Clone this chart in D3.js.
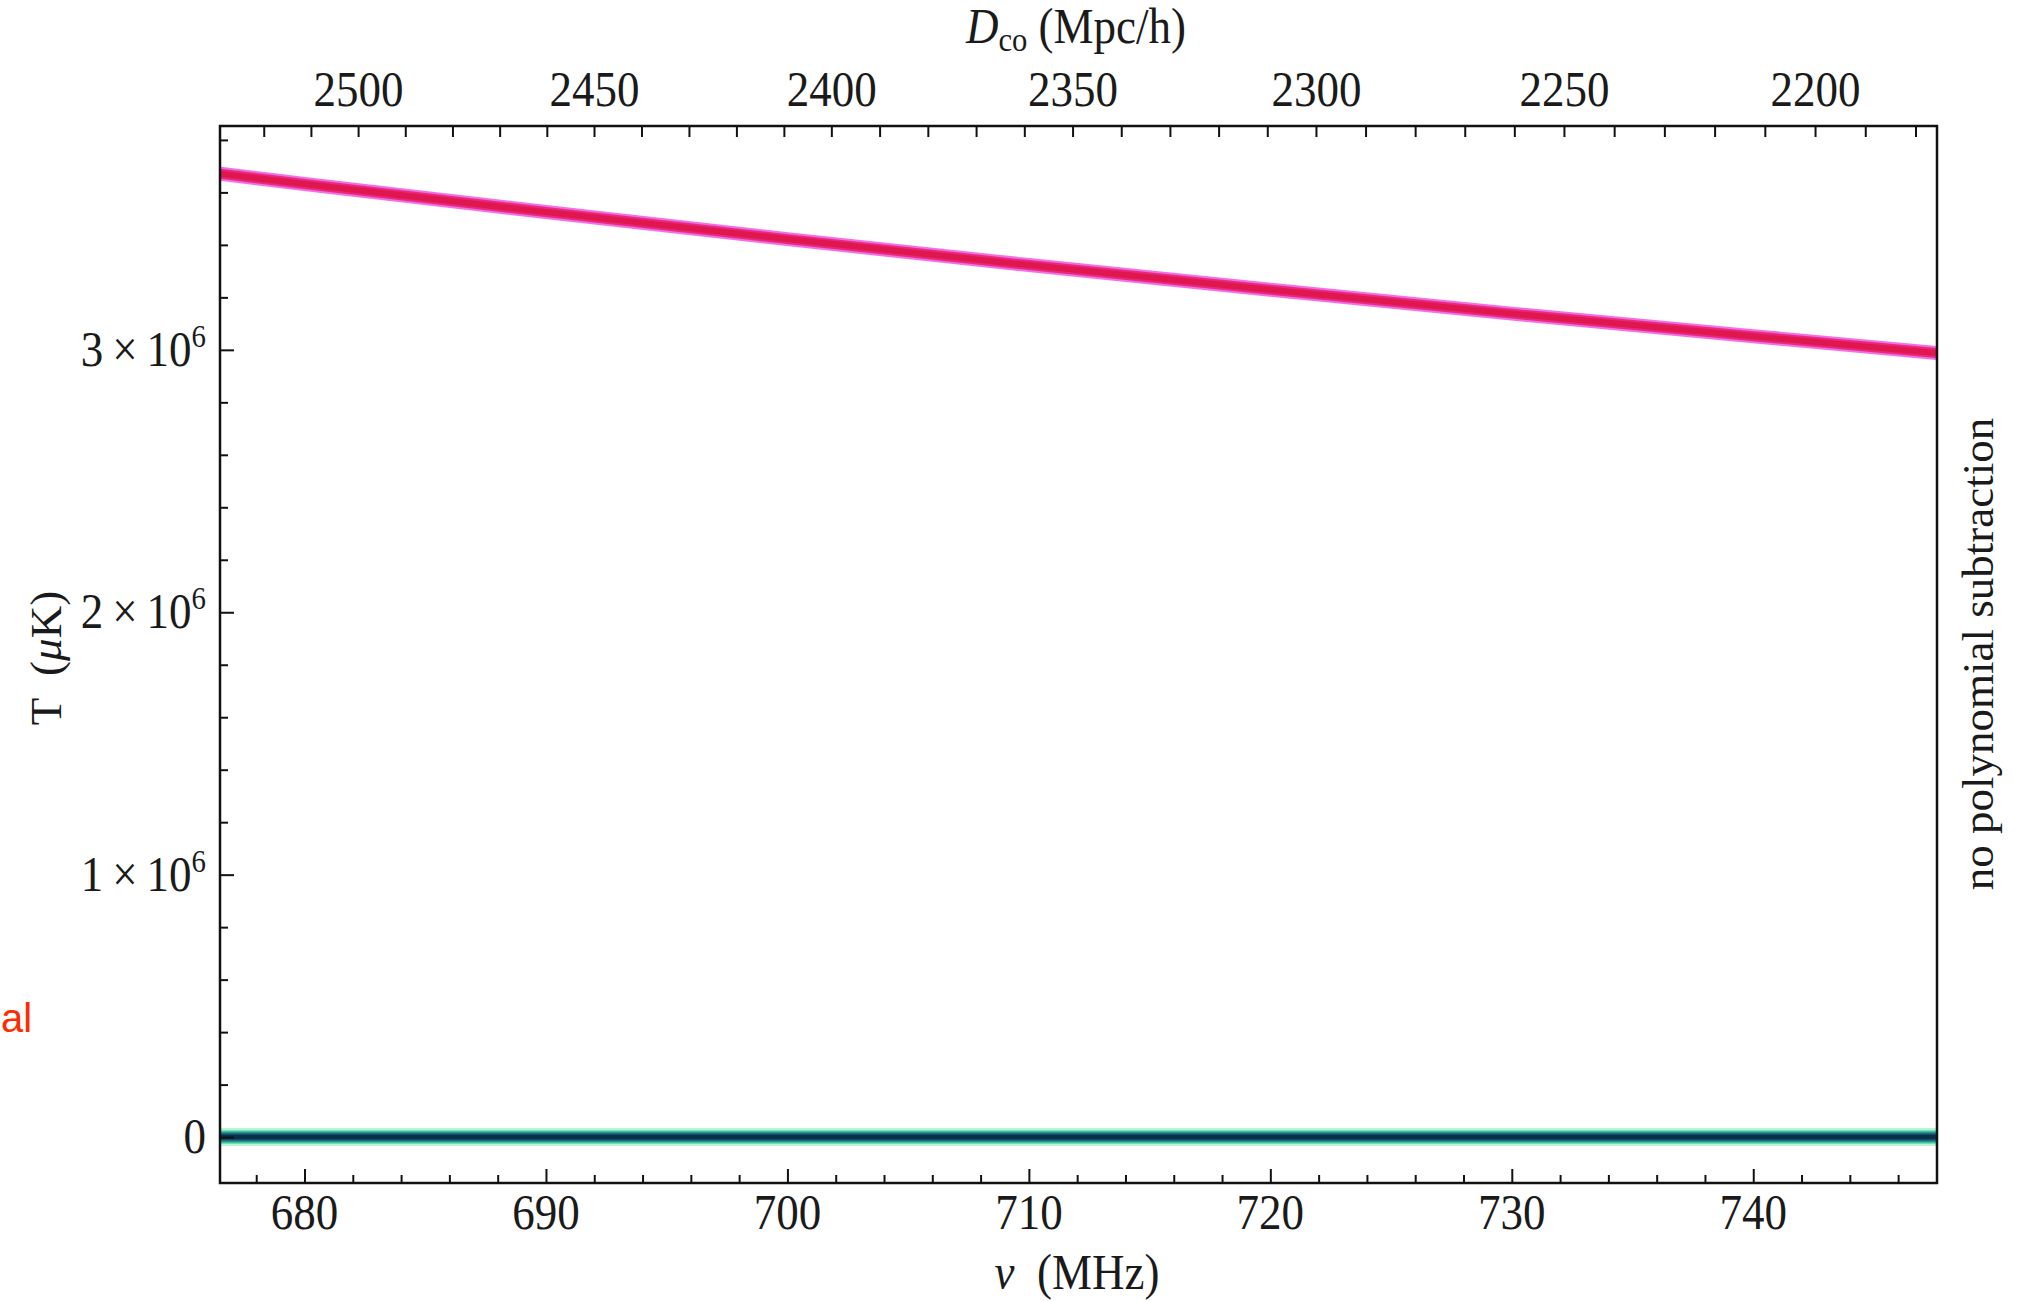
<!DOCTYPE html>
<html>
<head>
<meta charset="utf-8">
<script src="https://cdn.jsdelivr.net/npm/d3@7"></script>
<style>
  html, body { margin: 0; padding: 0; background: #ffffff; }
  svg { display: block; }
  text { font-family: "Liberation Serif", "Times New Roman", serif; fill: #1a1a1a; }
</style>
</head>
<body>
<svg id="chart" width="2017" height="1301"></svg>
<script>
(function () {
// ---------------- data ----------------
const nuTicks = [680, 690, 700, 710, 720, 730, 740];             // MHz, labelled bottom ticks
const nuMinorTicks = d3.range(678, 747, 2);                       // minor bottom ticks
const tTicks = [0, 1e6, 2e6, 3e6];                               // labelled left ticks
const tTickMantissa = ["0", "1", "2", "3"];
const tMinorTicks = d3.range(0.2e6, 3.85e6, 0.2e6);
const dcoTicks = [2500, 2450, 2400, 2350, 2300, 2250, 2200];      // top axis labels (Mpc/h)
const dcoTickNu = [682.24, 692.01, 701.84, 711.83, 721.91, 732.18, 742.58]; // where they sit on the nu axis
const dcoMinorTicks = d3.range(2180, 2530, 10);

const nuPoints = [676.5, 680, 690, 700, 710, 720, 730, 740, 747.6];
const foregroundT = [3.671e6, 3.632e6, 3.525e6, 3.422e6, 3.323e6, 3.229e6, 3.138e6, 3.052e6, 2.988e6];
const signalT = [0, 0, 0, 0, 0, 0, 0, 0, 0];

// ---------------- layout ----------------
const L = 220, R = 1937, T = 126, B = 1183;
const svg = d3.select("#chart");

const x = d3.scaleLinear().domain([676.5, 747.61]).range([L, R]);
const y = d3.scaleLinear().domain([-0.175e6, 3.853e6]).range([B, T]);
const dcoToNu = d3.scaleLinear().domain(dcoTicks).range(dcoTickNu);
const xTop = d => x(dcoToNu(d));

svg.append("rect").attr("width", 2017).attr("height", 1301).attr("fill", "#ffffff");

// clip for curves
svg.append("defs").append("clipPath").attr("id", "plotclip")
  .append("rect").attr("x", L).attr("y", T).attr("width", R - L).attr("height", B - T);

const line = d3.line().x((d, i) => x(nuPoints[i])).y(d => y(d));
const curves = svg.append("g").attr("clip-path", "url(#plotclip)");

// zero-level signal curves (teal/green fringe, navy core)
[["#b8f5d2", 18], ["#3cbf9f", 13], ["#1a6a80", 9], ["#0a2f4c", 5]].forEach(([c, w]) => {
  curves.append("path").datum(signalT).attr("d", line)
    .attr("fill", "none").attr("stroke", c).attr("stroke-width", w);
});

// foreground curve (magenta fringe, crimson core)
[["#f070e8", 14], ["#e8287a", 10], ["#e0164f", 6]].forEach(([c, w]) => {
  curves.append("path").datum(foregroundT).attr("d", line)
    .attr("fill", "none").attr("stroke", c).attr("stroke-width", w);
});

// ---------------- axes (ticks drawn inward) ----------------
const axStyle = g => {
  g.select(".domain").remove();
  g.selectAll(".tick line").attr("stroke", "#111").attr("stroke-width", 2);
  g.selectAll(".tick text").remove();
};

// bottom
svg.append("g").attr("transform", `translate(0,${B})`)
  .call(d3.axisBottom(x).tickValues(nuMinorTicks.filter(v => v % 10 !== 0)).tickSize(-8)).call(axStyle);
svg.append("g").attr("transform", `translate(0,${B})`)
  .call(d3.axisBottom(x).tickValues(nuTicks).tickSize(-14)).call(axStyle);

// left
svg.append("g").attr("transform", `translate(${L},0)`)
  .call(d3.axisLeft(y).tickValues(tMinorTicks.filter(v => Math.abs(v % 1e6) > 1)).tickSize(-8)).call(axStyle);
svg.append("g").attr("transform", `translate(${L},0)`)
  .call(d3.axisLeft(y).tickValues(tTicks).tickSize(-14)).call(axStyle);

// top (D_co axis, non-linear in nu)
svg.append("g").selectAll("line").data(dcoMinorTicks.filter(d => xTop(d) > L + 2 && xTop(d) < R - 2))
  .join("line")
  .attr("x1", d => xTop(d)).attr("x2", d => xTop(d))
  .attr("y1", T).attr("y2", T + 11)
  .attr("stroke", "#111").attr("stroke-width", 2);

// frame
svg.append("rect").attr("x", L).attr("y", T).attr("width", R - L).attr("height", B - T)
  .attr("fill", "none").attr("stroke", "#111").attr("stroke-width", 2.5);

// ---------------- tick labels ----------------
const SX = 0.9;
const FS = 50;

svg.append("g").selectAll("g").data(nuTicks).join("g")
  .attr("transform", d => `translate(${x(d)},1229) scale(${SX},1)`)
  .append("text").attr("text-anchor", "middle").attr("font-size", FS).text(d => d);

svg.append("g").selectAll("g").data(dcoTicks).join("g")
  .attr("transform", d => `translate(${xTop(d)},106) scale(${SX},1)`)
  .append("text").attr("text-anchor", "middle").attr("font-size", FS).text(d => d);

const yl = svg.append("g").selectAll("g").data(tTicks).join("g")
  .attr("transform", d => `translate(${L - 14},${y(d) + 16}) scale(${SX},1)`);
yl.each(function (d, i) {
  const t = d3.select(this).append("text").attr("text-anchor", "end").attr("font-size", FS)
    .attr("xml:space", "preserve");
  if (d === 0) { t.text("0"); return; }
  t.append("tspan").text(tTickMantissa[i] + "\u2009\u00D7\u200910");
  t.append("tspan").attr("font-size", 32).attr("dy", -19).text("6");
});

// ---------------- axis titles ----------------
const topTitle = svg.append("g").attr("transform", `translate(1076,43) scale(${SX},1)`)
  .append("text").attr("text-anchor", "middle").attr("font-size", FS).attr("xml:space", "preserve");
topTitle.append("tspan").attr("font-style", "italic").text("D");
topTitle.append("tspan").attr("font-size", 34).attr("dy", 8).text("co");
topTitle.append("tspan").attr("dy", -8).text(" (Mpc/h)");

const botTitle = svg.append("g").attr("transform", `translate(1077,1289) scale(${SX},1)`)
  .append("text").attr("text-anchor", "middle").attr("font-size", FS).attr("xml:space", "preserve");
botTitle.append("tspan").attr("font-style", "italic").text("\u03BD");
botTitle.append("tspan").text("  (MHz)");

const yTitle = svg.append("g").attr("transform", `translate(45,658) rotate(-90)`)
  .append("text").attr("text-anchor", "middle").attr("dy", "0.35em").attr("font-size", 45)
  .attr("xml:space", "preserve");
yTitle.append("tspan").text("T  (");
yTitle.append("tspan").attr("font-style", "italic").text("\u03BC");
yTitle.append("tspan").text("K)");

svg.append("g").attr("transform", `translate(1977,654) rotate(-90)`)
  .append("text").attr("text-anchor", "middle").attr("dy", "0.35em").attr("font-size", 45)
  .text("no polynomial subtraction");

// red fragment at the far left
svg.append("text").attr("x", 1).attr("y", 1032).attr("text-anchor", "start")
  .style("font-family", "'Liberation Sans Narrow', 'Liberation Sans', sans-serif")
  .attr("font-size", 40).style("fill", "#ff2a00").text("al");
})();
</script>
</body>
</html>
